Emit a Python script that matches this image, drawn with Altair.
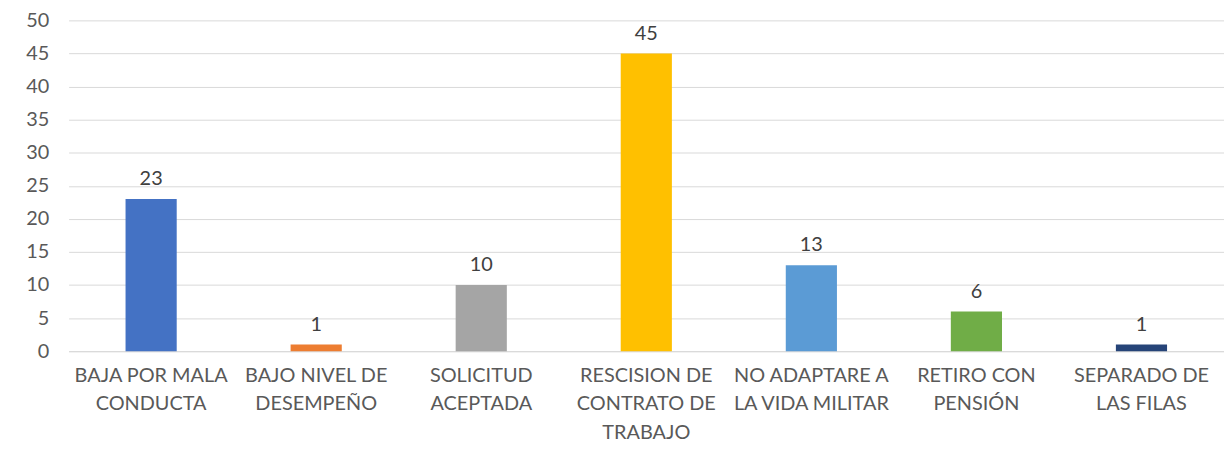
import altair as alt
import pandas as pd

categories = [
    "BAJA POR MALA|CONDUCTA",
    "BAJO NIVEL DE|DESEMPEÑO",
    "SOLICITUD|ACEPTADA",
    "RESCISION DE|CONTRATO DE|TRABAJO",
    "NO ADAPTARE A|LA VIDA MILITAR",
    "RETIRO CON|PENSIÓN",
    "SEPARADO DE|LAS FILAS",
]
values = [23, 1, 10, 45, 13, 6, 1]
colors = ["#4472C4", "#ED7D31", "#A5A5A5", "#FFC000", "#5B9BD5", "#70AD47", "#264478"]
y_ticks = [0, 5, 10, 15, 20, 25, 30, 35, 40, 45, 50]

df = pd.DataFrame({"cat": categories, "val": values, "color": colors})

font = "Lato"
fs = 20

x = alt.X(
    "cat:N",
    sort=categories,
    scale=alt.Scale(paddingInner=0.69, paddingOuter=0.345),
    axis=alt.Axis(
        title=None,
        labelExpr="split(datum.label, '|')",
        labelAngle=0,
        labelFontSize=fs,
        labelFont=font,
        labelColor="#595959",
        labelLineHeight=29,
        labelLimit=0,
        labelOverlap=False,
        labelPadding=14,
        labelBaseline="top",
        ticks=False,
        domainColor="#D9D9D9",
        domainWidth=1,
        grid=False,
    ),
)
y = alt.Y(
    "val:Q",
    scale=alt.Scale(domain=[0, 50]),
    axis=alt.Axis(
        title=None,
        values=y_ticks,
        labelFontSize=fs,
        labelFont=font,
        labelColor="#595959",
        labelPadding=20,
        labelOverlap=False,
        ticks=False,
        domain=False,
        gridColor="#D9D9D9",
        gridWidth=1,
    ),
)

bars = alt.Chart(df).mark_bar().encode(
    x=x, y=y, color=alt.Color("color:N", scale=None)
)
labels = alt.Chart(df).mark_text(
    dy=-10, baseline="bottom", fontSize=fs, font=font, color="#404040"
).encode(x=x, y=y, text="val:Q")

chart = (
    (bars + labels)
    .properties(
        width=1163,
        height=333,
        autosize=alt.AutoSizeParams(type="none"),
        padding={"left": 61, "top": 11, "right": 0, "bottom": 100},
    )
    .configure_view(stroke=None)
)

chart.save("out.html", embed_options={"renderer": "svg", "actions": False})
